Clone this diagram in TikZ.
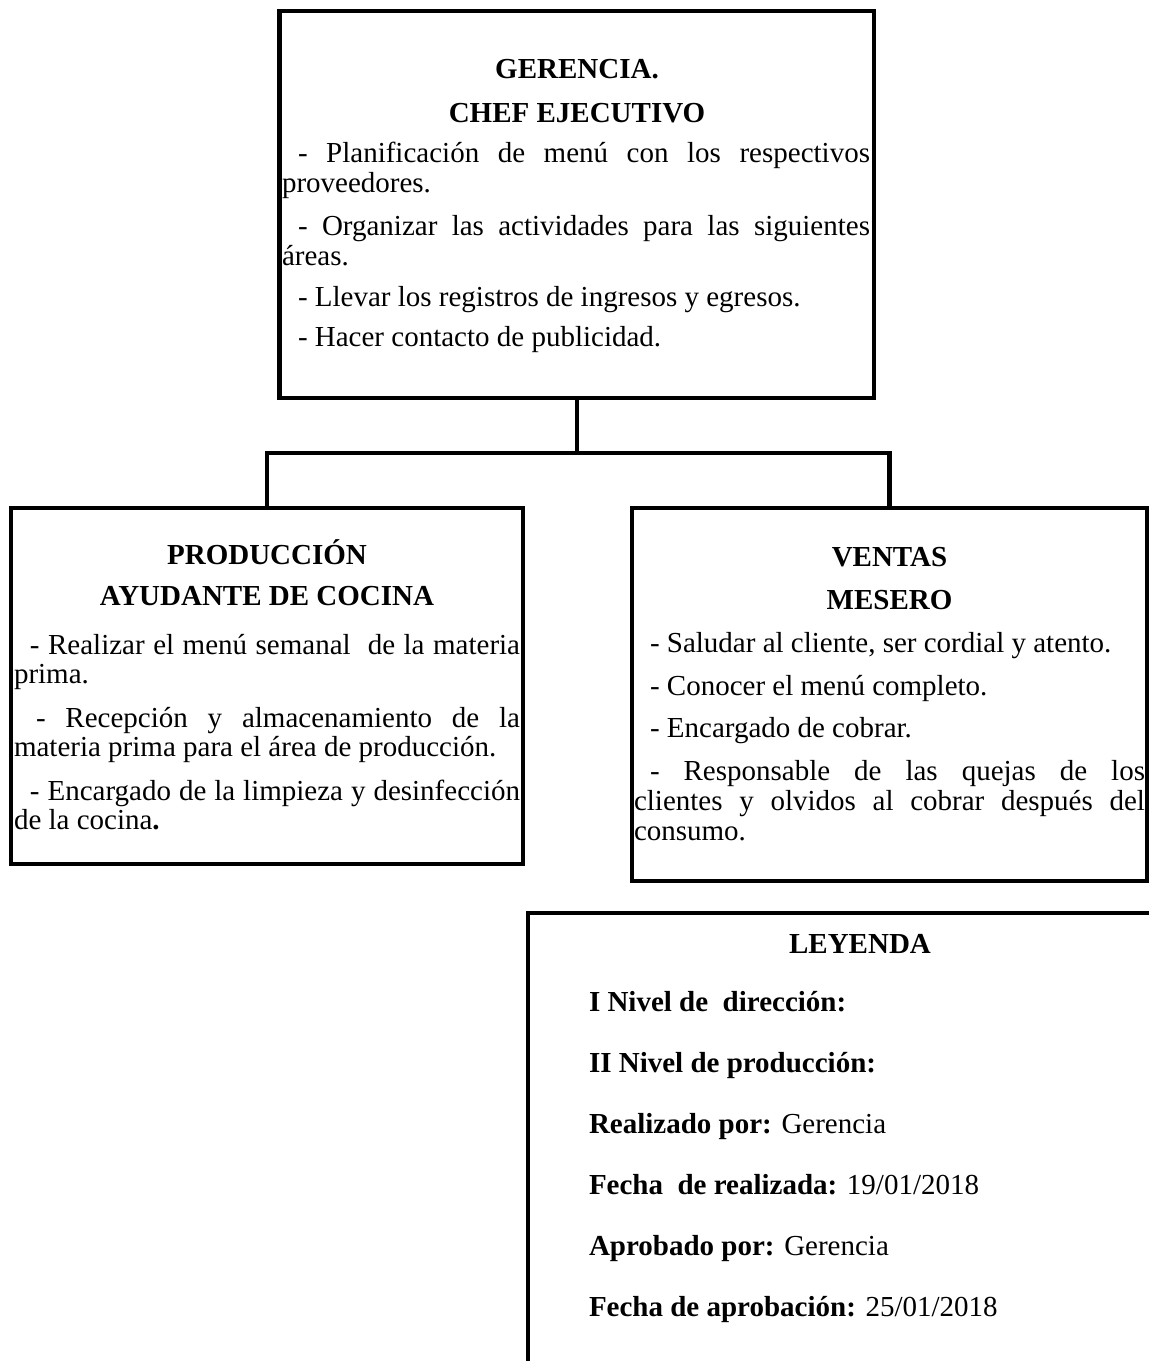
\documentclass[tikz,border=0pt]{standalone}
\usepackage{fontspec}
\setmainfont{Liberation Serif}
\newcommand{\jline}[2]{\makebox[#1][s]{#2}}
\newcommand{\ind}{\hspace*{8pt}}
\begin{document}
\begin{tikzpicture}[x=0.5pt,y=-0.5pt,
  box/.style={draw=black, line width=2.2pt, inner sep=0pt, outer sep=0pt},
  conn/.style={draw=black, line width=2.2pt, line join=miter},
  txt/.style={inner sep=0pt, outer sep=0pt, anchor=base west, font=\fontsize{14.5pt}{16pt}\selectfont},
  head/.style={inner sep=0pt, outer sep=0pt, anchor=base, font=\fontsize{14.5pt}{16pt}\selectfont\bfseries},
]
\path[use as bounding box] (0,0) rectangle (1149,1361);
\clip (0,0) rectangle (1149,1361);

% boxes
\node[box, minimum width=297.25pt, minimum height=193.5pt] (top) at (576.75,204.5) {};
\node[box, minimum width=256pt, minimum height=178pt] (left) at (267,686) {};
\node[box, minimum width=257.5pt, minimum height=186.5pt] (right) at (889.5,694.5) {};
\node[box, minimum width=400pt, minimum height=300pt, anchor=north west] (leg) at (528,913) {};

% connectors
\coordinate (bus) at (578,453);
\draw[conn] (top.south) -- (top.south |- bus);
\draw[conn] (left.north) -- (left.north |- bus) -- (right.north |- bus) -- (right.north);

% top box text
\node[head] (th1) at (577,78) {GERENCIA.};
\node[head] (th2) at (577,122) {CHEF EJECUTIVO};
\node[txt] (t1) at (282,162) {\jline{294pt}{\ind- Planificación de menú con los respectivos}};
\node[txt] (t2) at (282,192) {proveedores.};
\node[txt] (t3) at (282,235) {\jline{294pt}{\ind- Organizar las actividades para las siguientes}};
\node[txt] (t4) at (282,265) {áreas.};
\node[txt] (t5) at (282,306) {\ind- Llevar los registros de ingresos y egresos.};
\node[txt] (t6) at (282,346) {\ind- Hacer contacto de publicidad.};

% left box text
\node[head] (lh1) at (267,564) {PRODUCCIÓN};
\node[head] (lh2) at (267,605) {AYUDANTE DE COCINA};
\node[txt] (l1) at (14,654) {\jline{253pt}{\ind- Realizar el menú semanal\ \ de la materia}};
\node[txt] (l2) at (14,683) {prima.};
\node[txt] (l3) at (14,727) {\jline{253pt}{\hspace*{11pt}- Recepción y almacenamiento de la}};
\node[txt] (l4) at (14,756) {materia prima para el área de producción.};
\node[txt] (l5) at (14,800) {\jline{253pt}{\ind- Encargado de la limpieza y desinfección}};
\node[txt] (l6) at (14,829) {de la cocina\textbf{.}};

% right box text
\node[head] (rh1) at (889.5,566) {VENTAS};
\node[head] (rh2) at (889.5,609) {MESERO};
\node[txt] (r1) at (634,652) {\ind- Saludar al cliente, ser cordial y atento.};
\node[txt] (r2) at (634,695) {\ind- Conocer el menú completo.};
\node[txt] (r3) at (634,737) {\ind- Encargado de cobrar.};
\node[txt] (r4) at (634,780) {\jline{255.5pt}{\ind- Responsable de las quejas de los}};
\node[txt] (r5) at (634,810) {\jline{255.5pt}{clientes y olvidos al cobrar después del}};
\node[txt] (r6) at (634,840) {consumo.};

% legend text
\node[head] (gh) at (860,953) {LEYENDA};
\node[txt] (g1) at (589,1011) {\textbf{I Nivel de\ \ dirección:}};
\node[txt] (g2) at (589,1072) {\textbf{II Nivel de producción:}};
\node[txt] (g3) at (589,1133) {\textbf{Realizado por:} Gerencia};
\node[txt] (g4) at (589,1194) {\textbf{Fecha\ \ de realizada:} 19/01/2018};
\node[txt] (g5) at (589,1255) {\textbf{Aprobado por:} Gerencia};
\node[txt] (g6) at (589,1316) {\textbf{Fecha de aprobación:} 25/01/2018};
\end{tikzpicture}
\end{document}
